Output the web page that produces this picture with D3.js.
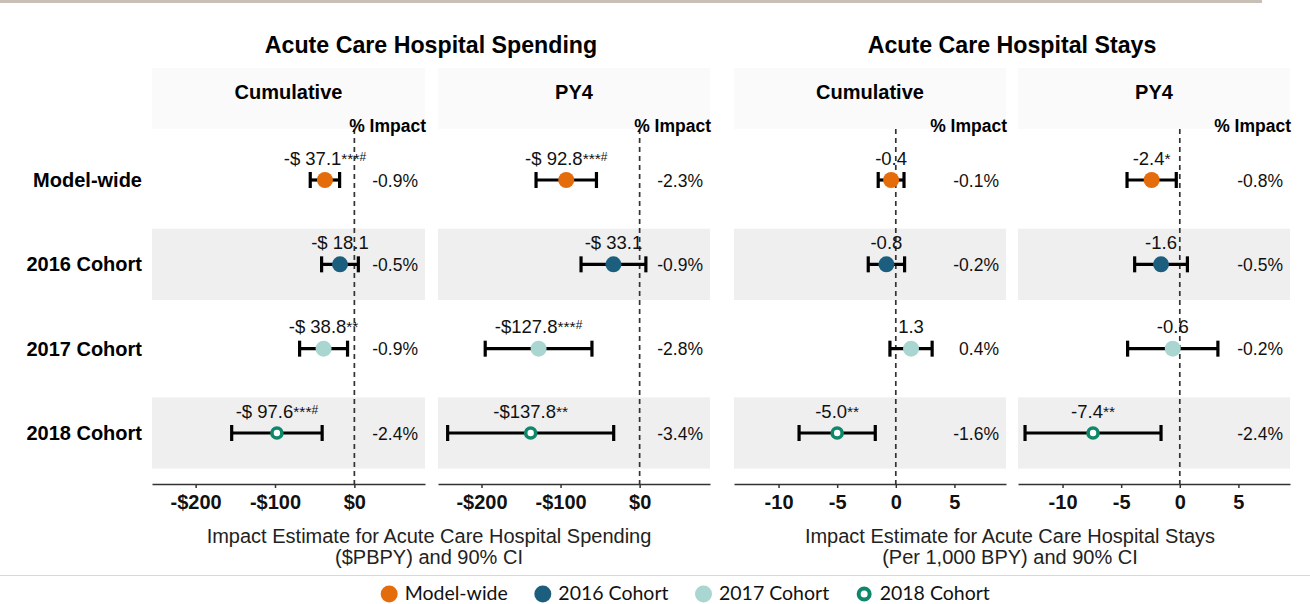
<!DOCTYPE html>
<html>
<head>
<meta charset="utf-8">
<script src="https://cdn.jsdelivr.net/npm/d3@7"></script>
<style>
  body { margin: 0; background: #fff; }
  svg { display: block; font-family: "Liberation Sans", Arial, sans-serif; }
</style>
</head>
<body>
<svg id="chart" width="1310" height="604"></svg>
<script>
// rows and legend
const rows = ["Model-wide", "2016 Cohort", "2017 Cohort", "2018 Cohort"];
const rowColors = ["#e46c0a", "#1b5e7d", "#a9d6d0", "#0f876a"];
const hollowRow = "2018 Cohort";

// Acute care spending, cumulative
const spendCumEst = [-37.1, -18.1, -38.8, -97.6];
const spendCumLo = [-55.6, -41.3, -69.0, -154.6];
const spendCumHi = [-18.6, 5.0, -8.6, -40.6];
const spendCumLabel = ["-$ 37.1", "-$ 18.1", "-$ 38.8", "-$ 97.6"];
const spendCumSig = ["***#", "", "**", "***#"];
const spendCumPct = ["-0.9%", "-0.5%", "-0.9%", "-2.4%"];

// Acute care spending, PY4
const spendPy4Est = [-92.8, -33.1, -127.8, -137.8];
const spendPy4Lo = [-131.0, -74.1, -195.3, -242.8];
const spendPy4Hi = [-54.6, 7.9, -60.3, -32.8];
const spendPy4Label = ["-$ 92.8", "-$ 33.1", "-$127.8", "-$137.8"];
const spendPy4Sig = ["***#", "", "***#", "**"];
const spendPy4Pct = ["-2.3%", "-0.9%", "-2.8%", "-3.4%"];

// Acute care stays, cumulative
const stayCumEst = [-0.4, -0.8, 1.3, -5.0];
const stayCumLo = [-1.5, -2.35, -0.5, -8.25];
const stayCumHi = [0.7, 0.75, 3.1, -1.75];
const stayCumLabel = ["-0.4", "-0.8", "1.3", "-5.0"];
const stayCumSig = ["", "", "", "**"];
const stayCumPct = ["-0.1%", "-0.2%", "0.4%", "-1.6%"];

// Acute care stays, PY4
const stayPy4Est = [-2.4, -1.6, -0.6, -7.4];
const stayPy4Lo = [-4.5, -3.85, -4.45, -13.2];
const stayPy4Hi = [-0.3, 0.65, 3.25, -1.6];
const stayPy4Label = ["-2.4", "-1.6", "-0.6", "-7.4"];
const stayPy4Sig = ["*", "", "", "**"];
const stayPy4Pct = ["-0.8%", "-0.5%", "-0.2%", "-2.4%"];

// axes
const spendDomain = [-255, 89];
const spendTicks = [-200, -100, 0];
const stayDomain = [-13.8, 9.4];
const stayTicks = [-10, -5, 0, 5];

const groupTitles = ["Acute Care Hospital Spending", "Acute Care Hospital Stays"];
const panelTitles = ["Cumulative", "PY4", "Cumulative", "PY4"];
const axisTitles = [
  ["Impact Estimate for Acute Care Hospital Spending", "($PBPY) and 90% CI"],
  ["Impact Estimate for Acute Care Hospital Stays", "(Per 1,000 BPY) and 90% CI"]
];

const spendFmt = v => v < 0 ? "-$" + Math.abs(v) : "$" + v;
const stayFmt = v => String(v);

function makeRows(est, lo, hi, label, sig, pct) {
  return rows.map((r, i) => ({ row: r, est: est[i], lo: lo[i], hi: hi[i], label: label[i], sig: sig[i], pct: pct[i], color: rowColors[i] }));
}

const panels = [
  { x0: 152, x1: 425, domain: spendDomain, ticks: spendTicks, fmt: spendFmt, title: panelTitles[0],
    data: makeRows(spendCumEst, spendCumLo, spendCumHi, spendCumLabel, spendCumSig, spendCumPct) },
  { x0: 438, x1: 710, domain: spendDomain, ticks: spendTicks, fmt: spendFmt, title: panelTitles[1],
    data: makeRows(spendPy4Est, spendPy4Lo, spendPy4Hi, spendPy4Label, spendPy4Sig, spendPy4Pct) },
  { x0: 734, x1: 1006, domain: stayDomain, ticks: stayTicks, fmt: stayFmt, title: panelTitles[2],
    data: makeRows(stayCumEst, stayCumLo, stayCumHi, stayCumLabel, stayCumSig, stayCumPct) },
  { x0: 1018, x1: 1290, domain: stayDomain, ticks: stayTicks, fmt: stayFmt, title: panelTitles[3],
    data: makeRows(stayPy4Est, stayPy4Lo, stayPy4Hi, stayPy4Label, stayPy4Sig, stayPy4Pct) }
];

const svg = d3.select("#chart");
const stripTop = 68, plotTop = 129, axisY = 484;

const y = d3.scalePoint().domain(rows).range([180, 433]);
const bandH = y.step() * 0.845;

// decorative rules
svg.append("line").attr("x1", 0).attr("x2", 1262).attr("y1", 1.5).attr("y2", 1.5)
  .attr("stroke", "#c8bfb6").attr("stroke-width", 3);
svg.append("line").attr("x1", 0).attr("x2", 1310).attr("y1", 575.5).attr("y2", 575.5)
  .attr("stroke", "#d9d9d9").attr("stroke-width", 1);

// group titles
[[0, 1], [2, 3]].forEach((pair, gi) => {
  const cx = (panels[pair[0]].x0 + panels[pair[1]].x1) / 2;
  svg.append("text").attr("x", cx).attr("y", 53).attr("text-anchor", "middle")
    .style("font-weight", "bold").style("font-size", "23.2px").attr("fill", "#000")
    .text(groupTitles[gi]);
  axisTitles[gi].forEach((t, li) => {
    svg.append("text").attr("x", cx - 2).attr("y", 543 + li * 20.5).attr("text-anchor", "middle")
      .style("font-size", "20px").attr("fill", "#222").text(t);
  });
});

// row labels
svg.selectAll("text.rowlab").data(rows).enter().append("text").attr("class", "rowlab")
  .attr("x", 142).attr("y", d => y(d) + 7).attr("text-anchor", "end")
  .style("font-weight", "bold").style("font-size", "20px").attr("fill", "#000")
  .text(d => d);

panels.forEach(p => {
  const x = d3.scaleLinear().domain(p.domain).range([p.x0, p.x1]);
  const g = svg.append("g");

  g.append("rect").attr("x", p.x0).attr("y", stripTop).attr("width", p.x1 - p.x0)
    .attr("height", plotTop - stripTop).attr("fill", "#fafafa");
  g.append("text").attr("x", (p.x0 + p.x1) / 2).attr("y", 99).attr("text-anchor", "middle")
    .style("font-weight", "bold").style("font-size", "20px").attr("fill", "#000").text(p.title);

  // shaded rows
  g.selectAll("rect.band").data(rows.filter((r, i) => i % 2 === 1)).enter().append("rect")
    .attr("class", "band").attr("x", p.x0).attr("width", p.x1 - p.x0)
    .attr("y", d => y(d) - bandH / 2).attr("height", bandH).attr("fill", "#efefef");

  // zero reference
  g.append("line").attr("x1", x(0)).attr("x2", x(0)).attr("y1", plotTop).attr("y2", axisY)
    .attr("stroke", "#333").attr("stroke-width", 1.7).attr("stroke-dasharray", "5,4");

  g.append("text").attr("x", p.x1 + 1).attr("y", 132).attr("text-anchor", "end")
    .style("font-weight", "bold").style("font-size", "17.5px").attr("fill", "#000").text("% Impact");

  // x axis
  const axis = g.append("g").attr("transform", `translate(0,${axisY})`)
    .call(d3.axisBottom(x).tickValues(p.ticks).tickFormat(p.fmt).tickSize(4).tickSizeOuter(0));
  axis.select(".domain").attr("stroke", "#333").attr("stroke-width", 1.5);
  axis.selectAll(".tick line").attr("stroke", "#333").attr("stroke-width", 1.5);
  axis.selectAll(".tick text").attr("y", 11).attr("dy", "0.71em")
    .style("font-family", "'Liberation Sans', Arial, sans-serif")
    .style("font-weight", "bold").style("font-size", "20px").attr("fill", "#111");

  const rowsG = g.selectAll("g.row").data(p.data).enter().append("g").attr("class", "row");

  // error bars with caps
  rowsG.append("line").attr("x1", d => x(d.lo)).attr("x2", d => x(d.hi))
    .attr("y1", d => y(d.row)).attr("y2", d => y(d.row))
    .attr("stroke", "#000").attr("stroke-width", 3.2);
  ["lo", "hi"].forEach(k => {
    rowsG.append("line").attr("x1", d => x(d[k])).attr("x2", d => x(d[k]))
      .attr("y1", d => y(d.row) - 8).attr("y2", d => y(d.row) + 8)
      .attr("stroke", "#000").attr("stroke-width", 3.2);
  });

  // points
  rowsG.append("circle").attr("cx", d => x(d.est)).attr("cy", d => y(d.row))
    .attr("r", d => d.row === hollowRow ? 5 : 8)
    .attr("fill", d => d.row === hollowRow ? "#fff" : d.color)
    .attr("stroke", d => d.row === hollowRow ? d.color : "none")
    .attr("stroke-width", 3.6);

  // estimate labels
  const lab = rowsG.append("text").attr("x", d => x(d.est)).attr("y", d => y(d.row) - 15.5)
    .attr("text-anchor", "middle").style("font-size", "18.5px").attr("fill", "#111");
  lab.append("tspan").text(d => d.label);
  lab.append("tspan").style("font-size", "15.5px").attr("dy", -1)
    .text(d => d.sig.replace("#", ""));
  lab.filter(d => d.sig.includes("#")).append("tspan").style("font-size", "12px").attr("dy", -3)
    .text("#");

  // percent impact
  rowsG.append("text").attr("x", p.x1 - 7).attr("y", d => y(d.row) + 6.5).attr("text-anchor", "end")
    .style("font-size", "17.5px").attr("fill", "#111").text(d => d.pct);
});

// legend
const leg = svg.append("g");
let lx = 0;
rows.forEach((r, i) => {
  const item = leg.append("g").attr("transform", `translate(${lx},0)`);
  const hollow = r === hollowRow;
  item.append("circle").attr("cx", 0).attr("cy", 594).attr("r", hollow ? 5.5 : 8.5)
    .attr("fill", hollow ? "#fff" : rowColors[i])
    .attr("stroke", hollow ? rowColors[i] : "none").attr("stroke-width", 4);
  const t = item.append("text").attr("x", 15.5).attr("y", 600)
    .style("font-family", "Lato, 'Open Sans', sans-serif").style("font-size", "19.5px")
    .attr("fill", "#111").text(r);
  lx += 15.5 + t.node().getComputedTextLength() + 35;
});
const legW = lx - 35 + 9;
leg.attr("transform", `translate(${685 - legW / 2 + 9},0)`);
</script>
</body>
</html>
